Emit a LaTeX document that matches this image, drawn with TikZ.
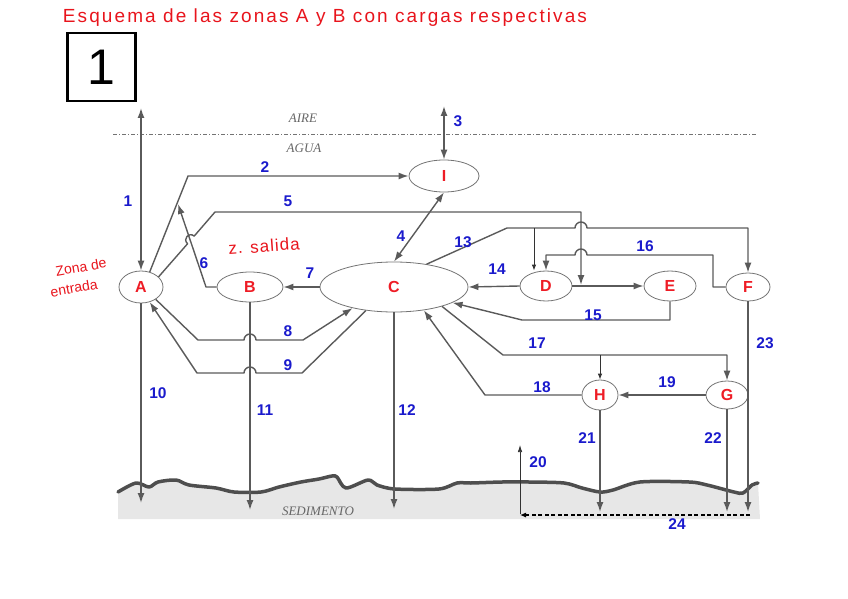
\documentclass[tikz,border=0pt]{standalone}
\usepackage{fontspec}
\setmainfont{Liberation Sans}
\newfontfamily\serifit{Liberation Serif}
\usetikzlibrary{arrows.meta,shapes.geometric}

\definecolor{ln}{HTML}{5A5A5A}
\definecolor{lbl}{HTML}{1A1ACC}
\definecolor{nodered}{HTML}{EE1C25}
\definecolor{hand}{HTML}{E8141C}
\definecolor{sed}{HTML}{E7E7E7}
\definecolor{wavec}{HTML}{4E4E4E}

\tikzset{
  zone/.style={ellipse, draw=ln!85, line width=0.8pt, inner sep=0pt,
    font=\fontsize{16}{16}\selectfont\bfseries, text=nodered},
  flow/.style={draw=ln, line width=1.4pt, line join=round,
    -{Latex[length=10pt,width=7pt]}},
  bflow/.style={draw=ln, line width=1.4pt, line join=round,
    {Latex[length=10pt,width=7pt]}-{Latex[length=10pt,width=7pt]}},
  thinflow/.style={draw=black!80, line width=0.8pt,
    -{Latex[length=6pt,width=4.5pt]}},
  num/.style={text=lbl, font=\fontsize{15.5}{15.5}\selectfont\bfseries, inner sep=1pt},
  handtext/.style={text=hand, inner sep=0pt},
  layertext/.style={text=black!60, font=\serifit\itshape\fontsize{13}{13}\selectfont}
}

\begin{document}
\begin{tikzpicture}[x=1pt,y=-1pt]
\useasboundingbox (0,0) rectangle (848,599);

% sediment
\fill[sed] plot[smooth] coordinates {(118,492) (136,483) (149,487) (158,482) (176,480) (189,485) (216,488) (234,492) (261,492) (279,487) (301,482) (319,479) (332,476) (337,477) (346,488) (368,480) (377,485) (395,489) (439,489) (457,483) (471,483) (502,482) (529,482) (564,483) (582,488) (600,492) (613,490) (640,482) (689,482) (707,485) (734,492) (743,493) (752,485) (758,483)} -- (760,519) -- (118,519) -- cycle;
\draw[wavec, line width=3.5pt, line join=round, line cap=round] plot[smooth] coordinates {(118,492) (136,483) (149,487) (158,482) (176,480) (189,485) (216,488) (234,492) (261,492) (279,487) (301,482) (319,479) (332,476) (337,477) (346,488) (368,480) (377,485) (395,489) (439,489) (457,483) (471,483) (502,482) (529,482) (564,483) (582,488) (600,492) (613,490) (640,482) (689,482) (707,485) (734,492) (743,493) (752,485) (758,483)};

% air / water boundary
\coordinate (airL) at (113,134);
\coordinate (airR) at (757,134);
\draw[black!55, line width=0.9pt, dash pattern=on 4pt off 2pt on 1pt off 2pt] (airL) -- (airR);
\node[layertext] (aire) at (303,118) {AIRE};
\node[layertext] (agua) at (304,148) {AGUA};
\node[layertext] (sedim) at (318,511) {SEDIMENTO};

% title and box
\node[handtext, font=\fontsize{19}{19}\selectfont\addfontfeature{LetterSpace=11}] (title) at (325,18) {Esquema de las zonas A y B con cargas respectivas};
\node[draw, line width=2.6pt, minimum width=68pt, minimum height=68pt, inner sep=0pt,
      font=\fontsize{50}{50}\selectfont] (box1) at (101.5,67) {1};

% handwritten zone notes
\node[handtext, font=\fontsize{14}{14}\selectfont, rotate=10] (zent1) at (81,267) {Zona de};
\node[handtext, font=\fontsize{14}{14}\selectfont, rotate=10] (zent2) at (74,288) {entrada};
\node[handtext, font=\fontsize{17}{17}\selectfont\addfontfeature{LetterSpace=6}, rotate=4] (zsal) at (264,246) {z. salida};

% compartments
\node[zone, minimum width=44pt, minimum height=32pt] (A) at (141,287) {A};
\node[zone, minimum width=66pt, minimum height=30pt] (B) at (250,287) {B};
\node[zone, minimum width=148pt, minimum height=50pt] (C) at (394,287) {C};
\node[zone, minimum width=52pt, minimum height=30pt] (D) at (546,286) {D};
\node[zone, minimum width=52pt, minimum height=30pt] (E) at (670,286) {E};
\node[zone, minimum width=44pt, minimum height=28pt] (F) at (748,287) {F};
\node[zone, minimum width=70pt, minimum height=32pt] (I) at (444,176) {I};
\node[zone, minimum width=36pt, minimum height=30pt] (H) at (600,395) {H};
\node[zone, minimum width=42pt, minimum height=28pt] (G) at (727,395) {G};

% free ends
\coordinate (top1) at (141,108);
\coordinate (top3) at (444,106);
\coordinate (j6) at (178,204);
\coordinate (j5) at (581,285);
\coordinate (j13) at (534,228);
\coordinate (j17) at (600,355);
\coordinate (s10) at (141,503);
\coordinate (s11) at (250,510);
\coordinate (s12) at (394,509);
\coordinate (s21) at (600,512);
\coordinate (s22) at (727,512);
\coordinate (s23) at (748,512);
\coordinate (b20) at (520,514);
\coordinate (t20) at (520,445);
\coordinate (r24) at (750,515);
\coordinate (l24) at (520,515);

% 1, 3, 4
\draw[bflow] (A.north) -- (top1);
\draw[bflow] (I.north) -- (top3);
\draw[bflow] (C.north) -- (I.south);
% 2
\draw[flow] (A.60) -- (188,176) -- (I.west);
% 6
\draw[flow] (B.west) -- (206,287) -- (j6);
% 5 (hop over 6)
\draw[flow] (A.30) -- (187.6,243.7) .. controls (182.3,239.1) and (188.9,231.5) .. (194.2,236.1) -- (215,212) -- (581,212) -- (j5);
% 7
\draw[flow] (C.west) -- (B.east);
% 8
\draw[flow] (A.-40) -- (198,340) -- (244,340) arc[start angle=180,end angle=0,radius=6pt] -- (303,340) -- (C.-153);
% 9
\draw[flow] (C.-140) -- (302,373) -- (256,373) arc[start angle=0,end angle=180,radius=6pt] -- (197,373) -- (A.-60);
% 10, 11, 12
\draw[flow] (A.south) -- (s10);
\draw[flow] (B.south) -- (s11);
\draw[flow] (C.south) -- (s12);
% 13
\draw[flow] (C.35) -- (507,228) -- (575,228) arc[start angle=180,end angle=0,radius=6pt] -- (748,228) -- (F.north);
\draw[thinflow] (j13) -- (j13 |- D.north);
% 16
\draw[flow] (F.west) -- (713,287) -- (713,255) -- (587,255) arc[start angle=0,end angle=180,radius=6pt] -- (546,255) -- (D.north);
% 14, D->E
\draw[flow] (D.west) -- (C.east);
\draw[flow] (D.east) -- (E.west);
% 15
\draw[flow] (E.south) -- (670,320) -- (522,320) -- (C.-15);
% 17
\draw[flow] (C.-22) -- (503,355) -- (727,355) -- (G.north);
\draw[thinflow] (j17) -- (H.north);
% 18
\draw[flow] (H.west) -- (485,395) -- (C.-38);
% 19
\draw[flow] (G.west) -- (H.east);
% 21, 22, 23
\draw[flow] (H.south) -- (s21);
\draw[flow] (G.south) -- (s22);
\draw[flow] (F.south) -- (s23);
% 20, 24
\draw[black!80, line width=0.7pt, -{Latex[length=7pt,width=4.5pt]}] (b20) -- (t20);
\draw[black, line width=1.1pt, dash pattern=on 4pt off 2.5pt, -{Latex[length=6pt,width=5pt]}] (r24) -- (l24);

% flow numbers
\node[num] (n1) at (128,201) {1};
\node[num] (n2) at (265,167) {2};
\node[num] (n3) at (458,121) {3};
\node[num] (n4) at (401,236) {4};
\node[num] (n5) at (288,201) {5};
\node[num] (n6) at (204,263) {6};
\node[num] (n7) at (310,273) {7};
\node[num] (n8) at (288,331) {8};
\node[num] (n9) at (288,365) {9};
\node[num] (n10) at (158,393) {10};
\node[num] (n11) at (265,410) {11};
\node[num] (n12) at (407,410) {12};
\node[num] (n13) at (463,242) {13};
\node[num] (n14) at (497,269) {14};
\node[num] (n15) at (593,315) {15};
\node[num] (n16) at (645,246) {16};
\node[num] (n17) at (537,343) {17};
\node[num] (n18) at (542,387) {18};
\node[num] (n19) at (667,382) {19};
\node[num] (n20) at (538,462) {20};
\node[num] (n21) at (587,438) {21};
\node[num] (n22) at (713,438) {22};
\node[num] (n23) at (765,343) {23};
\node[num] (n24) at (677,524) {24};
\end{tikzpicture}
\end{document}
